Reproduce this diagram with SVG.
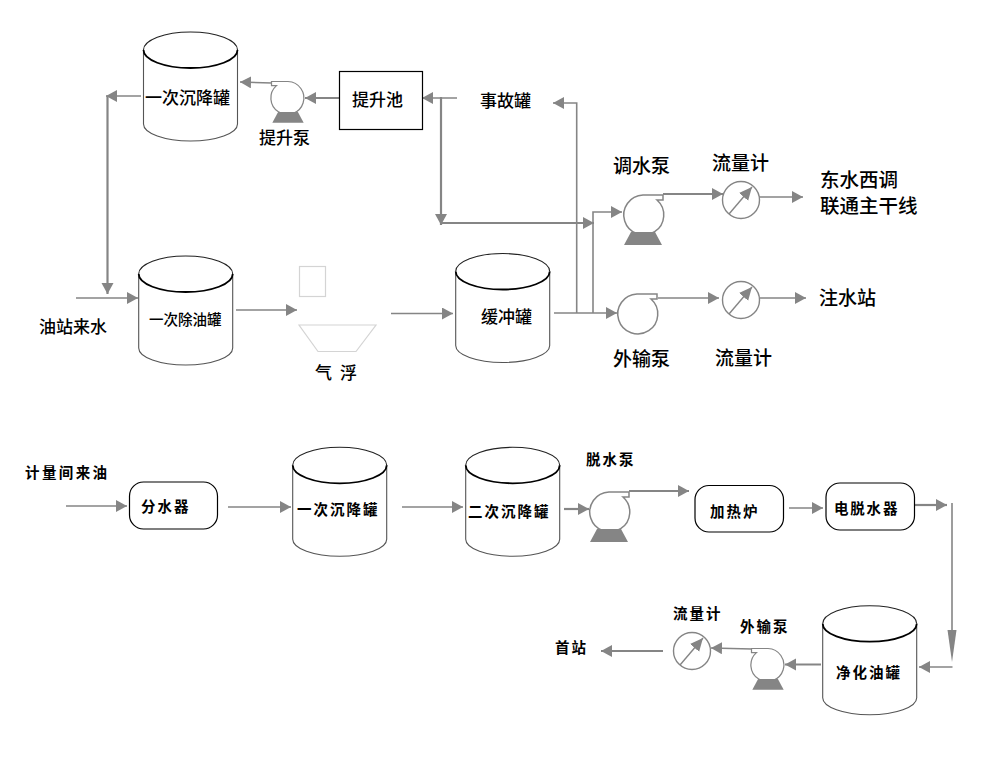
<svg xmlns="http://www.w3.org/2000/svg" width="992" height="768" viewBox="0 0 992 768">
  <style>
    text { font-family: "Noto Sans CJK SC", "Noto Sans", sans-serif; fill: #000; }
    .t17 { font-size: 17px; font-weight: 500; }
    .t19 { font-size: 19px; font-weight: 500; }
    .t195 { font-size: 19.5px; font-weight: 500; }
    .t14 { font-size: 14.5px; font-weight: 500; }
    .b { font-size: 14.5px; font-weight: 700; letter-spacing: 2px; }
    .flow { fill: none; stroke: #858585; stroke-width: 1.6; }
    .main { stroke-width: 2.2; }
    .arr { marker-end: url(#head); }
    .box { fill: #fff; stroke: #000; stroke-width: 1.2; }
    .ghost { fill: none; stroke: #d4d4d4; stroke-width: 1.2; }
    .meter { fill: #fff; stroke: #858585; stroke-width: 1.4; }
    .needle { fill: none; stroke: #858585; stroke-width: 1.4; marker-end: url(#needleHead); }
  </style>
  <defs>
    <marker id="head" markerUnits="userSpaceOnUse" markerWidth="12" markerHeight="13" refX="11" refY="6" orient="auto">
      <path d="M0 0 L11 6 L0 12 Z" fill="#858585"/>
    </marker>
    <marker id="needleHead" markerUnits="userSpaceOnUse" markerWidth="14" markerHeight="13" refX="13" refY="6" orient="auto">
      <path d="M0 0 L13 6 L0 12 Z" fill="#858585"/>
    </marker>
    <g id="tank">
      <path d="M0 18 V92 A47 17 0 0 0 94 92 V18" fill="#fff" stroke="#555" stroke-width="1.1"/>
      <path d="M0 18 A47 18 0 0 1 94 18" fill="#fff" stroke="#222" stroke-width="1.1"/>
      <path d="M0 18 A47 18 0 0 0 94 18" fill="none" stroke="#000" stroke-width="1.8"/>
    </g>
    <g id="pumpBody">
      <path d="M0 -20 H20 V-15 H14 A20 20 0 1 1 0 -20 Z" fill="#fff" stroke="#858585" stroke-width="1.5"/>
    </g>
    <g id="pump">
      <use href="#pumpBody"/>
      <polygon points="-12,17 12,17 19,30 -19,30" fill="#858585"/>
    </g>
    <g id="gauge">
      <circle r="18.5" class="meter"/>
      <line x1="-12" y1="14" x2="11" y2="-13" class="needle"/>
    </g>
  </defs>

  <g id="connectors">
    <path class="flow arr" d="M141 96 H106"/>
    <path class="flow main arr" d="M107.5 96 V294"/>
    <path class="flow arr" d="M76 298 H138"/>
    <path class="flow arr" d="M236 310 H297"/>
    <path class="flow arr" d="M391 313.5 H453"/>
    <path class="flow main arr" d="M339 98 H305"/>
    <path class="flow arr" d="M272 83 L240 82"/>
    <path class="flow arr" d="M457 98 H422"/>
    <path class="flow main arr" d="M441 97 V225"/>
    <path class="flow main arr" d="M441 223 H594"/>
    <path class="flow arr" d="M554 313 H617"/>
    <path class="flow arr" d="M576.7 313 V103 H553"/>
    <path class="flow arr" d="M593 313 V212 H622"/>
    <path class="flow main arr" d="M663 194 H723"/>
    <path class="flow arr" d="M759 197 H803"/>
    <path class="flow arr" d="M658 298 H719"/>
    <path class="flow arr" d="M760 298 H806"/>
    <path class="flow arr" d="M66 506 H127"/>
    <path class="flow arr" d="M228 507 H291"/>
    <path class="flow arr" d="M402 507 H463"/>
    <path class="flow main arr" d="M564 509 H589"/>
    <path class="flow main arr" d="M629 491 H689"/>
    <path class="flow arr" d="M789 508 H823"/>
    <path class="flow main arr" d="M915 505 H947"/>
    <path class="flow" d="M952 503 V640"/>
    <polygon points="947.5,630 956.5,630 952,662" fill="#858585"/>
    <path class="flow arr" d="M952.5 667 H919"/>
    <path class="flow main arr" d="M821 664.5 H785"/>
    <path class="flow arr" d="M752 649 L711 648"/>
    <path class="flow main arr" d="M663 651 H601"/>
  </g>

  <g id="settling-tank-1">
    <use href="#tank" x="143.5" y="32"/>
    <text class="t17" x="145" y="104">一次沉降罐</text>
  </g>
  <g id="oil-removal-tank">
    <use href="#tank" x="138.7" y="256"/>
    <text class="t14" x="149" y="325">一次除油罐</text>
  </g>
  <g id="buffer-tank">
    <use href="#tank" x="455.7" y="253.5"/>
    <text class="t17" x="481" y="323">缓冲罐</text>
  </g>
  <g id="settling-tank-2">
    <use href="#tank" x="292.7" y="447.3"/>
    <text class="b" x="297" y="515">一次沉降罐</text>
  </g>
  <g id="settling-tank-3">
    <use href="#tank" x="465.7" y="447.3"/>
    <text class="b" x="468" y="517">二次沉降罐</text>
  </g>
  <g id="clean-oil-tank">
    <use href="#tank" x="822.7" y="605.7"/>
    <text class="b" x="836" y="678">净化油罐</text>
  </g>

  <g id="lift-pool">
    <rect class="box" x="339.5" y="71.5" width="83" height="58"/>
    <text class="t17" x="352" y="106">提升池</text>
  </g>
  <g id="lift-pump">
    <use href="#pump" transform="translate(288 98) scale(-0.825 0.825)"/>
    <text class="t17" x="259" y="144">提升泵</text>
  </g>
  <g id="accident-tank">
    <text class="t17" x="480" y="107">事故罐</text>
  </g>
  <g id="transfer-pump-a">
    <use href="#pump" transform="translate(643 215)"/>
    <text class="t19" x="613" y="173">调水泵</text>
  </g>
  <g id="export-pump-a">
    <use href="#pumpBody" transform="translate(637 314)"/>
    <text class="t19" x="613" y="366">外输泵</text>
  </g>
  <g id="flow-meter-a">
    <use href="#gauge" transform="translate(741 200)"/>
    <text class="t19" x="712" y="170">流量计</text>
  </g>
  <g id="flow-meter-b">
    <use href="#gauge" transform="translate(741 300)"/>
    <text class="t19" x="715" y="365">流量计</text>
  </g>
  <g id="trunk-line">
    <text class="t195"><tspan x="820" y="187">东水西调</tspan><tspan x="820" y="213">联通主干线</tspan></text>
  </g>
  <g id="injection-station">
    <text class="t19" x="819" y="305">注水站</text>
  </g>
  <g id="water-source">
    <text class="t17" x="39" y="333">油站来水</text>
  </g>
  <g id="air-flotation">
    <rect class="ghost" x="299.5" y="266.5" width="26" height="30"/>
    <polygon class="ghost" points="299,325 376,325 356,351.5 318,351.5"/>
    <text class="t17" x="315" y="379">气</text>
    <text class="t17" x="340" y="379">浮</text>
  </g>

  <g id="metered-oil">
    <text class="b" x="25" y="478" style="letter-spacing:2.4px">计量间来油</text>
  </g>
  <g id="separator">
    <rect class="box" x="129.5" y="482" width="88" height="47" rx="14"/>
    <text class="b" x="141" y="512">分水器</text>
  </g>
  <g id="dewatering-pump">
    <use href="#pump" transform="translate(609 512)"/>
    <text class="b" x="586" y="465">脱水泵</text>
  </g>
  <g id="heater">
    <rect class="box" x="695" y="485.5" width="88.5" height="46.5" rx="14"/>
    <text class="b" x="710" y="517">加热炉</text>
  </g>
  <g id="electric-dehydrator">
    <rect class="box" x="826" y="483" width="88.5" height="47" rx="14"/>
    <text class="b" x="834" y="514" style="letter-spacing:1.8px">电脱水器</text>
  </g>
  <g id="export-pump-b">
    <use href="#pump" transform="translate(768 665) scale(-0.825 0.825)"/>
    <text class="b" x="740" y="632">外输泵</text>
  </g>
  <g id="flow-meter-c">
    <use href="#gauge" transform="translate(692 651)"/>
    <text class="b" x="673" y="619">流量计</text>
  </g>
  <g id="head-station">
    <text class="b" x="555" y="653">首站</text>
  </g>
</svg>
